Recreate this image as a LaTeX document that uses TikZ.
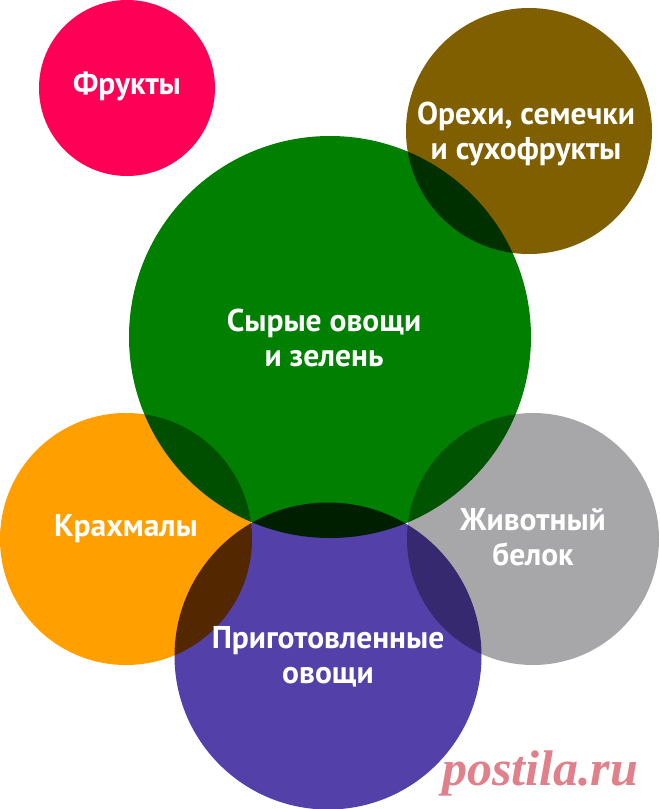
\documentclass[tikz,border=0pt]{standalone}
\usepackage{fontspec}
\setmainfont{PT Sans}
\newfontfamily\wmfont{Liberation Serif}
\definecolor{cpink}{HTML}{FE0056}
\definecolor{cbrown}{HTML}{7F5F00}
\definecolor{cgreen}{HTML}{007F00}
\definecolor{corange}{HTML}{FFA000}
\definecolor{cgray}{HTML}{A7A7A9}
\definecolor{cpurple}{HTML}{5340A8}
\definecolor{cwm}{HTML}{E0808A}
\tikzset{
  disc/.style={circle, inner sep=0pt, minimum size=#1},
  lbl/.style={text=white, font=\bfseries\fontsize{31.5}{35}\selectfont, align=center},
}
\begin{document}
\begin{tikzpicture}[x=1pt,y=-1pt]
\useasboundingbox (0,0) rectangle (660,809);
\begin{scope}[blend group=multiply]
  \node[disc=176, fill=cpink] (fr) at (127,88) {};
  \node[disc=246, fill=cbrown] (nu) at (529,131) {};
  \node[disc=402, fill=cgreen] (gr) at (330,337) {};
  \node[disc=252, fill=corange] (st) at (126,539) {};
  \node[disc=252, fill=cgray] (pr) at (533,539) {};
  \node[disc=307, fill=cpurple] (co) at (328,656) {};
\end{scope}
\node[lbl] (tfr) at (127,86) {Фрукты};
\node[lbl] (tnu) at (526,134) {Орехи, семечки\\и сухофрукты};
\node[lbl] (tgr) at (324,338) {Сырые овощи\\и зелень};
\node[lbl] (tst) at (126,529) {Крахмалы};
\node[lbl] (tpr) at (533,537) {Животный\\белок};
\node[lbl] (tco) at (328,657) {Приготовленные\\овощи};
\node[text=cwm, font=\wmfont\bfseries\itshape\fontsize{50}{54}\selectfont] (wm) at (540,773) {postila.ru};
\end{tikzpicture}
\end{document}
